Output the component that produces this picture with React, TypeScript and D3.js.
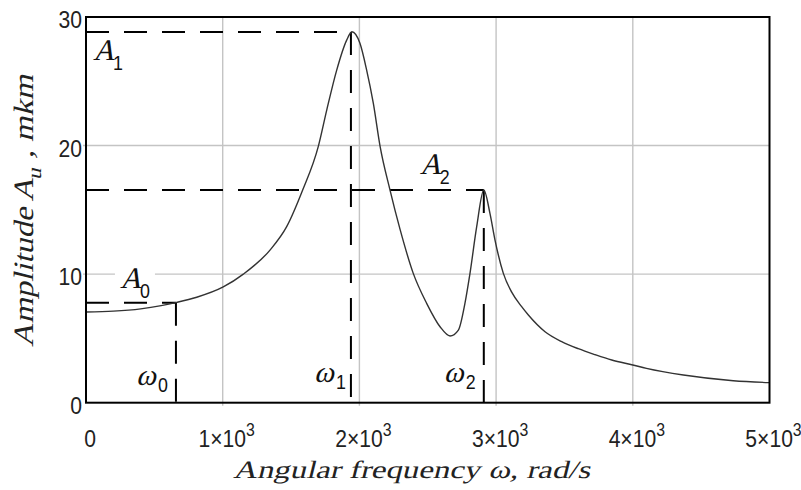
import React from "react";
import * as d3 from "d3";

const omega = [0,200,400,550,663,810,1004,1151,1346,1468,1585,1700,1761,1834,1907,1945,2004,2053,2102,2151,2224,2297,2394,2492,2590,2663,2724,2772,2809,2858,2910,2955,2992,3053,3114,3187,3236,3358,3480,3601,3723,3846,4000,4100,4370,4735,5000];
const amplitude = [7.05,7.12,7.3,7.55,7.8,8.2,9.0,10.0,11.87,13.69,16.54,19.96,22.76,25.87,28.2,28.85,27.95,25.87,23.28,19.96,16.54,13.5,10.06,7.73,5.91,5.19,5.65,7.73,10.06,13.69,16.54,14.73,12.65,10.06,8.6,7.47,6.82,5.52,4.75,4.2,3.74,3.32,2.93,2.67,2.15,1.71,1.56];

const xTicks = [0, 1000, 2000, 3000, 4000, 5000];
const xTickMantissa = ["0", "1×10", "2×10", "3×10", "4×10", "5×10"];
const yTicks = [0, 10, 20, 30];
const yTickLabels = ["0", "10", "20", "30"];

const markOmega = [658, 1938, 2910];
const markAmp = [7.78, 28.83, 16.54];
const markIndex = ["0", "1", "2"];

const W = 801, H = 490;
const serif = "'Liberation Serif'";
const sans = "'Liberation Sans'";
const skew = "skewX(-14)";

export default function App() {
  const x = d3.scaleLinear().domain([0, 5000]).range([86, 769.5]);
  const y = d3.scaleLinear().domain([0, 30]).range([402.7, 17]);
  const pts: [number, number][] = omega.map((w, i) => [w, amplitude[i]]);
  const line = d3.line<[number, number]>().x(d => x(d[0])).y(d => y(d[1])).curve(d3.curveMonotoneX);
  const x0 = x(0), x1 = x(5000), y0 = y(0), y1 = y(30);
  const dash = "23,15";

  const aLabel = [
    { lx: x(markOmega[0]) - 56, ly: y(markAmp[0]) - 15 },
    { lx: x(0) + 7, ly: y(markAmp[1]) + 28 },
    { lx: x(markOmega[2]) - 64, ly: y(markAmp[2]) - 16 },
  ];
  const wLabel = [
    { lx: x(markOmega[0]) - 40, ly: y0 - 18 },
    { lx: x(markOmega[1]) - 37, ly: y0 - 21 },
    { lx: x(markOmega[2]) - 40, ly: y0 - 21 },
  ];

  return (
    <svg width={W} height={H} style={{ position: "absolute", left: 0, top: 0, background: "#fff" }}>
      <rect x={0} y={0} width={W} height={H} fill="#fff" />
      {xTicks.slice(1, -1).map(t => (
        <line key={"gx" + t} x1={x(t)} x2={x(t)} y1={y1} y2={y0 + 3} stroke="#c4c4c4" strokeWidth={1.4} />
      ))}
      {yTicks.slice(1, -1).map(t => (
        <line key={"gy" + t} x1={x0 - 3} x2={x1} y1={y(t)} y2={y(t)} stroke="#c4c4c4" strokeWidth={1.4} />
      ))}
      <rect x={aLabel[0].lx - 5} y={aLabel[0].ly - 22} width={40} height={34} fill="#fff" />

      {markOmega.map((w, i) => (
        <g key={"m" + i}>
          <line x1={x0} x2={x(w)} y1={y(markAmp[i])} y2={y(markAmp[i])} stroke="#000" strokeWidth={2} strokeDasharray={dash} />
          <line x1={x(w)} x2={x(w)} y1={y(markAmp[i])} y2={y0 + 3} stroke="#000" strokeWidth={2} strokeDasharray={dash} />
        </g>
      ))}

      <path d={line(pts) || ""} fill="none" stroke="#333" strokeWidth={1.4} />

      <rect x={x0} y={y1} width={x1 - x0} height={y0 - y1} fill="none" stroke="#000" strokeWidth={2} />

      {yTicks.map((t, i) => (
        <text key={"yt" + t} transform={`translate(${x0 - 4},${y(t) + 11}) scale(0.88,1)`} textAnchor="end"
          fontFamily={sans} fontSize={24} fill="#222">{yTickLabels[i]}</text>
      ))}
      {xTicks.map((t, i) => (
        <text key={"xt" + t} transform={`translate(${x(t) + 4},${447}) scale(0.88,1)`} textAnchor="middle"
          fontFamily={sans} fontSize={24} fill="#222">
          {xTickMantissa[i]}
          {i > 0 && <tspan fontSize={18} dy={-11}>3</tspan>}
        </text>
      ))}

      <text transform={`translate(233,478) ${skew}`} fontFamily={serif} fontSize={25} fill="#222"
        textLength={357} lengthAdjust="spacingAndGlyphs">Angular frequency  ω, rad/s</text>
      <text transform={`translate(33,347) rotate(-90) ${skew}`} fontFamily={serif} fontSize={28} fill="#222"
        textLength={272} lengthAdjust="spacingAndGlyphs">
        Amplitude A<tspan fontSize={20} dy={8}>u</tspan><tspan dy={-8}> , mkm</tspan>
      </text>

      {aLabel.map((p, i) => (
        <g key={"al" + i}>
          <text transform={`translate(${p.lx},${p.ly}) ${skew}`} fontFamily={serif} fontSize={30} fill="#111">A</text>
          <text transform={`translate(${p.lx + 20},${p.ly + 10}) scale(0.85,1)`} fontFamily={sans} fontSize={21} fill="#111">{markIndex[i]}</text>
        </g>
      ))}
      {wLabel.map((p, i) => (
        <g key={"wl" + i}>
          <text transform={`translate(${p.lx},${p.ly}) ${skew}`} fontFamily={serif} fontSize={30} fill="#111">ω</text>
          <text transform={`translate(${p.lx + 22},${p.ly + 7}) scale(0.85,1)`} fontFamily={sans} fontSize={21} fill="#111">{markIndex[i]}</text>
        </g>
      ))}
    </svg>
  );
}
